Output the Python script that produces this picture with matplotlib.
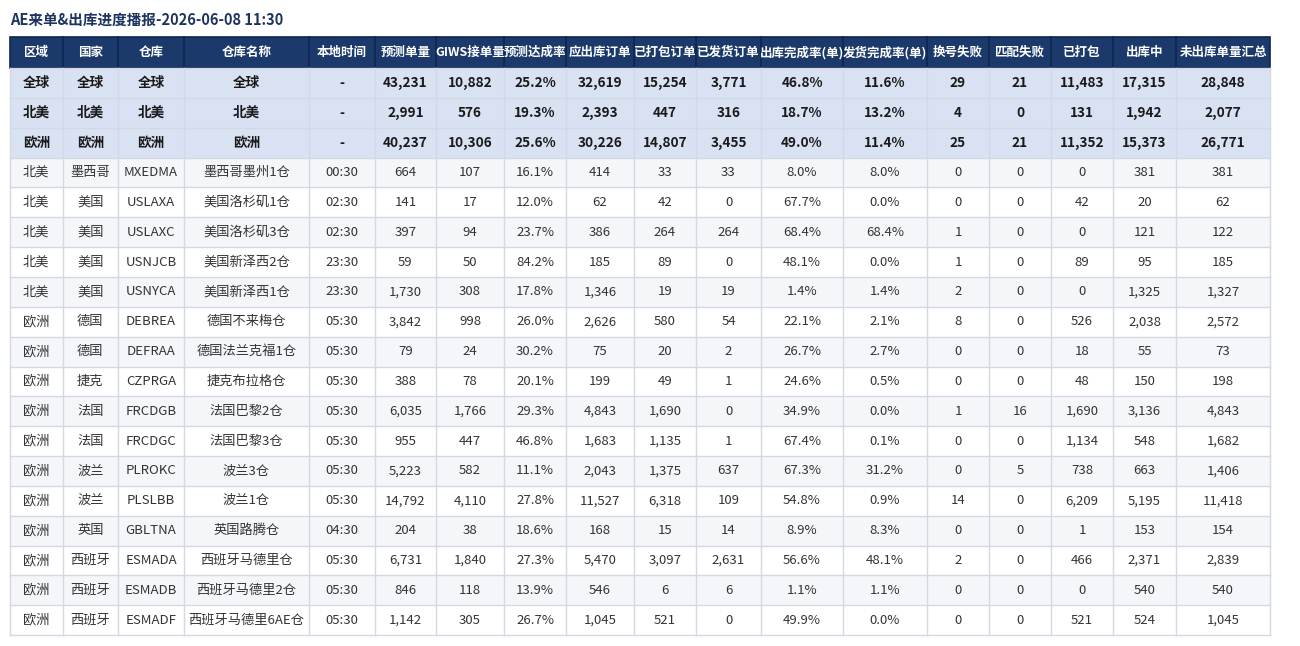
import matplotlib
matplotlib.use("Agg")
import matplotlib.pyplot as plt
from matplotlib.patches import Rectangle

plt.rcParams['font.family'] = ['Noto Sans CJK SC', 'DejaVu Sans']

title = "AE来单&出库进度播报-2026-06-08 11:30"
headers = ["区域", "国家", "仓库", "仓库名称", "本地时间", "预测单量", "GIWS接单量", "预测达成率",
           "应出库订单", "已打包订单", "已发货订单", "出库完成率(单)", "发货完成率(单)", "换号失败",
           "匹配失败", "已打包", "出库中", "未出库单量汇总"]

# summary rows
sum_region = ["全球", "北美", "欧洲"]
sum_forecast = [43231, 2991, 40237]
sum_giws = [10882, 576, 10306]
sum_rate = [25.2, 19.3, 25.6]
sum_due = [32619, 2393, 30226]
sum_packed_orders = [15254, 447, 14807]
sum_shipped = [3771, 316, 3455]
sum_out_rate = [46.8, 18.7, 49.0]
sum_ship_rate = [11.6, 13.2, 11.4]
sum_swap_fail = [29, 4, 25]
sum_match_fail = [21, 0, 21]
sum_packed = [11483, 131, 11352]
sum_outing = [17315, 1942, 15373]
sum_pending = [28848, 2077, 26771]

# warehouse rows
region = ["北美"] * 5 + ["欧洲"] * 11
country = ["墨西哥", "美国", "美国", "美国", "美国", "德国", "德国", "捷克", "法国", "法国",
           "波兰", "波兰", "英国", "西班牙", "西班牙", "西班牙"]
wh_code = ["MXEDMA", "USLAXA", "USLAXC", "USNJCB", "USNYCA", "DEBREA", "DEFRAA", "CZPRGA",
           "FRCDGB", "FRCDGC", "PLROKC", "PLSLBB", "GBLTNA", "ESMADA", "ESMADB", "ESMADF"]
wh_name = ["墨西哥墨州1仓", "美国洛杉矶1仓", "美国洛杉矶3仓", "美国新泽西2仓", "美国新泽西1仓",
           "德国不来梅仓", "德国法兰克福1仓", "捷克布拉格仓", "法国巴黎2仓", "法国巴黎3仓",
           "波兰3仓", "波兰1仓", "英国路腾仓", "西班牙马德里仓", "西班牙马德里2仓", "西班牙马德里6AE仓"]
local_time = ["00:30", "02:30", "02:30", "23:30", "23:30", "05:30", "05:30", "05:30", "05:30",
              "05:30", "05:30", "05:30", "04:30", "05:30", "05:30", "05:30"]
forecast = [664, 141, 397, 59, 1730, 3842, 79, 388, 6035, 955, 5223, 14792, 204, 6731, 846, 1142]
giws = [107, 17, 94, 50, 308, 998, 24, 78, 1766, 447, 582, 4110, 38, 1840, 118, 305]
rate = [16.1, 12.0, 23.7, 84.2, 17.8, 26.0, 30.2, 20.1, 29.3, 46.8, 11.1, 27.8, 18.6, 27.3, 13.9, 26.7]
due = [414, 62, 386, 185, 1346, 2626, 75, 199, 4843, 1683, 2043, 11527, 168, 5470, 546, 1045]
packed_orders = [33, 42, 264, 89, 19, 580, 20, 49, 1690, 1135, 1375, 6318, 15, 3097, 6, 521]
shipped = [33, 0, 264, 0, 19, 54, 2, 1, 0, 1, 637, 109, 14, 2631, 6, 0]
out_rate = [8.0, 67.7, 68.4, 48.1, 1.4, 22.1, 26.7, 24.6, 34.9, 67.4, 67.3, 54.8, 8.9, 56.6, 1.1, 49.9]
ship_rate = [8.0, 0.0, 68.4, 0.0, 1.4, 2.1, 2.7, 0.5, 0.0, 0.1, 31.2, 0.9, 8.3, 48.1, 1.1, 0.0]
swap_fail = [0, 0, 1, 1, 2, 8, 0, 0, 1, 0, 0, 14, 0, 2, 0, 0]
match_fail = [0, 0, 0, 0, 0, 0, 0, 0, 16, 0, 5, 0, 0, 0, 0, 0]
packed = [0, 42, 0, 89, 0, 526, 18, 48, 1690, 1134, 738, 6209, 1, 466, 0, 521]
outing = [381, 20, 121, 95, 1325, 2038, 55, 150, 3136, 548, 663, 5195, 153, 2371, 540, 524]
pending = [381, 62, 122, 185, 1327, 2572, 73, 198, 4843, 1682, 1406, 11418, 154, 2839, 540, 1045]


def fi(v):
    return f"{v:,}"


def fp(v):
    return f"{v:.1f}%"


def make_rows(r, c, code, name, t, cols):
    F, G, R, D, PO, S, OR, SR, SW, MF, P, O, PE = cols
    rows = []
    for i in range(len(r)):
        rows.append([r[i], c[i], code[i], name[i], t[i],
                     fi(F[i]), fi(G[i]), fp(R[i]), fi(D[i]), fi(PO[i]), fi(S[i]),
                     fp(OR[i]), fp(SR[i]), fi(SW[i]), fi(MF[i]), fi(P[i]), fi(O[i]), fi(PE[i])])
    return rows


summary_rows = make_rows(sum_region, sum_region, sum_region, sum_region, ["-"] * 3,
                         (sum_forecast, sum_giws, sum_rate, sum_due, sum_packed_orders, sum_shipped,
                          sum_out_rate, sum_ship_rate, sum_swap_fail, sum_match_fail,
                          sum_packed, sum_outing, sum_pending))
data_rows = make_rows(region, country, wh_code, wh_name, local_time,
                      (forecast, giws, rate, due, packed_orders, shipped, out_rate, ship_rate,
                       swap_fail, match_fail, packed, outing, pending))

W, H = 1300, 646
fig = plt.figure(figsize=(W / 100, H / 100), dpi=100)
ax = fig.add_axes([0, 0, 1, 1])
ax.set_xlim(0, W)
ax.set_ylim(H, 0)
ax.axis('off')

col_x = [10, 62.5, 118, 184, 309, 375, 436, 504, 566, 634, 696, 761, 843, 927, 989, 1051, 1113, 1176, 1270]
top = 37
head_h = 31
row_h = 29.85

ax.text(10, 20, title, fontsize=10.5, fontweight='bold', color='#1d3461', ha='left', va='center')

# header
ax.add_patch(Rectangle((col_x[0], top), col_x[-1] - col_x[0], head_h, facecolor='#1b3a6b',
                       edgecolor='#0e2550', lw=1.2))
for j, h in enumerate(headers):
    if j > 0:
        ax.plot([col_x[j], col_x[j]], [top, top + head_h], color='#0e2550', lw=1.2)
    ax.text((col_x[j] + col_x[j + 1]) / 2, top + head_h / 2, h, fontsize=9, fontweight='bold',
            color='white', ha='center', va='center')

all_rows = summary_rows + data_rows
y0 = top + head_h
for i, row in enumerate(all_rows):
    y = y0 + i * row_h
    if i < 3:
        bg = '#d9e2f3'
        tc = '#1a1a1a'
        fw = 'bold'
        fs = 9.8
    else:
        bg = '#f4f6fa' if (i - 3) % 2 == 0 else '#ffffff'
        tc = '#333333'
        fw = 'normal'
        fs = 9.5
    ax.add_patch(Rectangle((col_x[0], y), col_x[-1] - col_x[0], row_h, facecolor=bg,
                           edgecolor='none'))
    for j, val in enumerate(row):
        ax.text((col_x[j] + col_x[j + 1]) / 2, y + row_h / 2, val, fontsize=fs, fontweight=fw,
                color=tc, ha='center', va='center')

bottom = y0 + len(all_rows) * row_h
# grid lines
for i in range(len(all_rows) + 1):
    y = y0 + i * row_h
    ax.plot([col_x[0], col_x[-1]], [y, y], color='#d3d8e3', lw=1)
for x in col_x:
    ax.plot([x, x], [y0, bottom], color='#d3d8e3', lw=1)

fig.savefig("out.png", dpi=100)
